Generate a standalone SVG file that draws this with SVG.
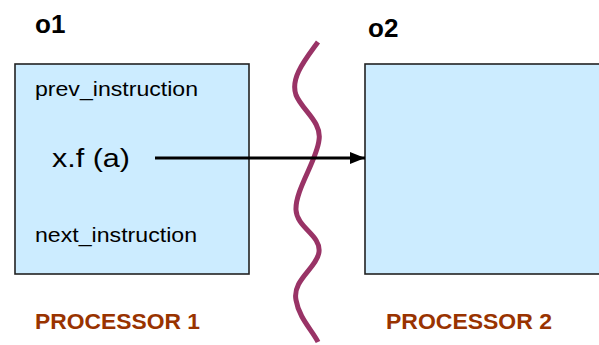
<svg xmlns="http://www.w3.org/2000/svg" width="599" height="345" viewBox="0 0 599 345">
<style>
.box{fill:#CCECFF;stroke:#222;stroke-width:1.6}
.t{font-family:"Liberation Sans",Arial,sans-serif;fill:#000}
.b{font-family:"Liberation Sans",Arial,sans-serif;font-weight:bold}
.proc{fill:#993300;font-size:22.5px}
</style>
<defs>
<marker id="ah" markerWidth="5" markerHeight="4" refX="5" refY="2" orient="auto" markerUnits="strokeWidth">
<path d="M0,0 L5,2 L0,4 Z" fill="#000"/>
</marker>
</defs>
<rect width="599" height="345" fill="#fff"/>
<g id="o1">
<rect class="box" x="15" y="64" width="234" height="210"/>
<text class="b" x="35" y="33" font-size="26">o1</text>
<text class="t" x="35" y="96" font-size="20" textLength="163" lengthAdjust="spacingAndGlyphs">prev_instruction</text>
<text class="t" x="52" y="167" font-size="26" textLength="78" lengthAdjust="spacingAndGlyphs">x.f (a)</text>
<text class="t" x="35" y="242" font-size="20" textLength="162" lengthAdjust="spacingAndGlyphs">next_instruction</text>
<text class="b proc" x="35" y="329" textLength="165" lengthAdjust="spacingAndGlyphs">PROCESSOR 1</text>
</g>
<g id="o2">
<rect class="box" x="365" y="64" width="240" height="210"/>
<text class="b" x="368" y="37" font-size="26">o2</text>
<text class="b proc" x="386" y="329" textLength="166" lengthAdjust="spacingAndGlyphs">PROCESSOR 2</text>
</g>
<g id="divider">
<path d="M318,42 C305,60 290,78 296,95 C302,110 322,122 319,140 C317,160 295,190 296,210 C297,228 321,235 319,252 C317,268 292,280 296,300 C299,318 312,330 318,342" fill="none" stroke="#993366" stroke-width="5" stroke-linecap="butt"/>
</g>
<g id="connectors">
<line x1="155" y1="158" x2="365" y2="158" stroke="#000" stroke-width="3" marker-end="url(#ah)"/>
</g>
</svg>
